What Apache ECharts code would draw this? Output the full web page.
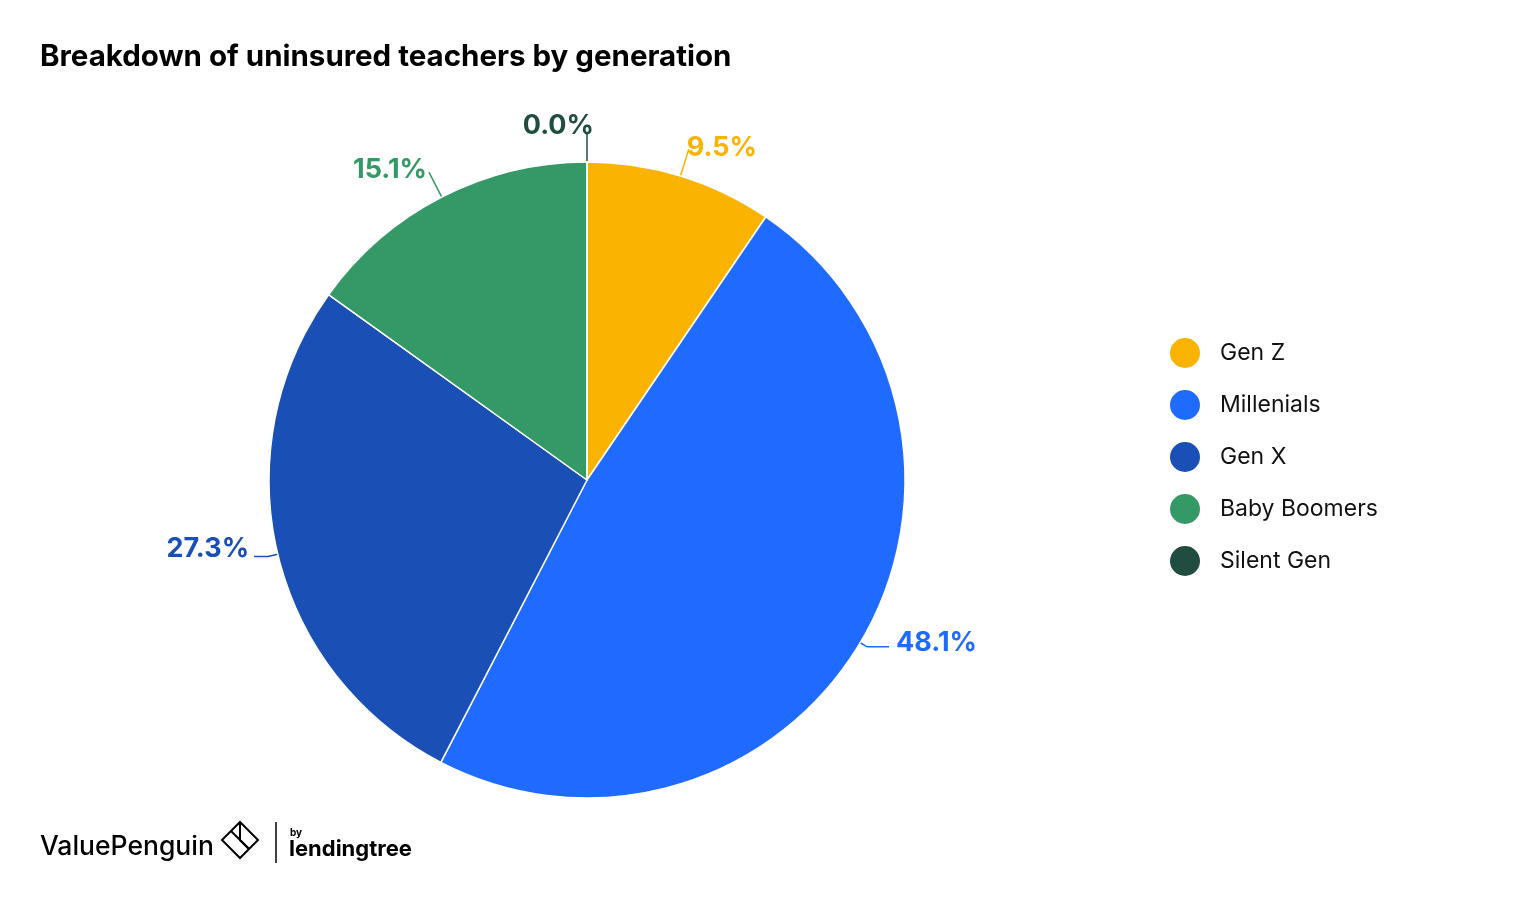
<!DOCTYPE html>
<html><head><meta charset="utf-8">
<script src="https://cdn.jsdelivr.net/npm/echarts@6/dist/echarts.min.js"></script>
<style>html,body{margin:0;padding:0;background:#fff}#c{width:1521px;height:901px}</style>
</head><body><div id="c"></div>
<script>
const categories = ['Gen Z', 'Millenials', 'Gen X', 'Baby Boomers', 'Silent Gen'];
const values = [9.5, 48.1, 27.3, 15.1, 0.0];
const colors = ['#F9B300', '#1F6BFF', '#1A4FB5', '#349966', '#214D40'];

// per-slice label connector tuning (styling only)
const lineLen = [28, 8, 10, 28, 28];
const lineLen2 = [0, 22, 14, 0, 1];
const labelShift = [[-7, -1], [2, -4], [0, -8], [3, -2], [13, -8]];

const chart = echarts.init(document.getElementById('c'));
const FONT = 'Inter, Roboto, sans-serif';
chart.setOption({
  backgroundColor: '#fff',
  animation: false,
  title: {
    text: 'Breakdown of uninsured teachers by generation',
    left: 35, top: 37,
    textStyle: { fontFamily: FONT, fontWeight: 'bold', fontSize: 29.5, color: '#000' }
  },
  legend: {
    orient: 'vertical', left: 1163, top: 331,
    icon: 'circle', itemWidth: 32, itemHeight: 32, itemGap: 18,
    data: categories,
    textStyle: { fontFamily: FONT, fontSize: 23, color: '#111', padding: [0, 0, 0, 14] }
  },
  series: [{
    type: 'pie',
    center: [587, 480], radius: 318,
    startAngle: 90, clockwise: true,
    avoidLabelOverlap: false,
    minShowLabelAngle: 0,
    itemStyle: { borderColor: '#fff', borderWidth: 1.5 },
    label: {
      show: true, fontFamily: FONT, fontWeight: 'bold', fontSize: 27,
      formatter: p => p.value.toFixed(1) + '%'
    },
    labelLine: { show: true, lineStyle: { width: 1.5 } },
    labelLayout: p => ({ dx: labelShift[p.dataIndex][0], dy: labelShift[p.dataIndex][1] }),
    data: categories.map((n, i) => ({
      name: n, value: values[i], itemStyle: { color: colors[i] },
      label: { color: colors[i] },
      labelLine: { length: lineLen[i], length2: lineLen2[i] }
    }))
  }],
  graphic: [
    { type: 'text', left: 40, top: 834, style: { text: 'ValuePenguin', fontFamily: FONT, fontSize: 26.5, fontWeight: 500, fill: '#000' } },
    { type: 'polygon', shape: { points: [[240, 822], [258, 840], [240, 858], [222, 840]] }, style: { fill: 'none', stroke: '#000', lineWidth: 2 } },
    { type: 'polyline', shape: { points: [[231, 831], [249, 849]] }, style: { stroke: '#000', lineWidth: 2 } },
    { type: 'polyline', shape: { points: [[240, 822], [240, 840], [249, 849]] }, style: { stroke: '#000', lineWidth: 2, fill: 'none' } },
    { type: 'line', shape: { x1: 276, y1: 822, x2: 276, y2: 863 }, style: { stroke: '#000', lineWidth: 1.5 } },
    { type: 'text', left: 290, top: 828, style: { text: 'by', fontFamily: FONT, fontSize: 10, fontWeight: 'bold', fill: '#000' } },
    { type: 'text', left: 289, top: 838, style: { text: 'lendingtree', fontFamily: FONT, fontSize: 22, fontWeight: 'bold', fill: '#000' } }
  ]
});
</script></body></html>
